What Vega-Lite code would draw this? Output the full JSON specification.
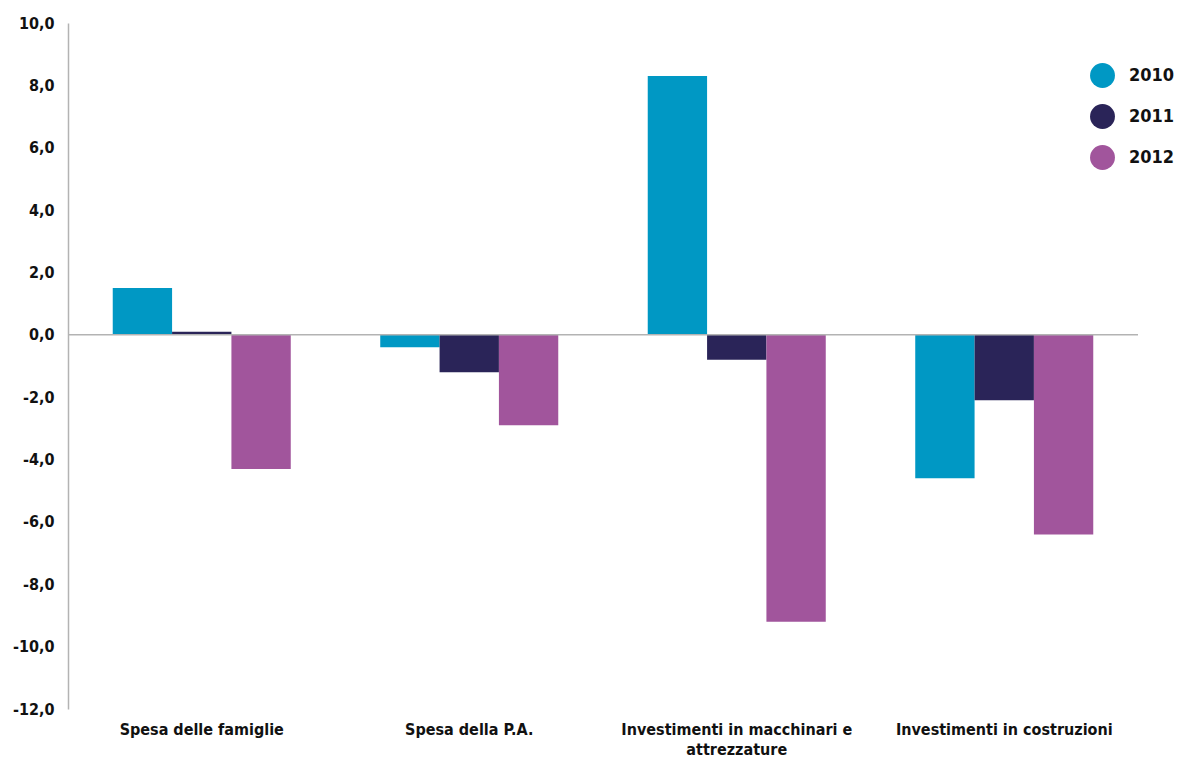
{
  "$schema": "https://vega.github.io/schema/vega-lite/v6.json",
  "autosize": {"type": "none"},
  "width": 1070,
  "height": 686,
  "padding": {"left": 68, "top": 23, "right": 43, "bottom": 51},
  "background": "white",
  "config": {
    "view": {"stroke": null},
    "font": "Liberation Sans Narrow, DejaVu Sans Condensed, Roboto, sans-serif"
  },
  "data": {
    "values": [
      {"categoria": "Spesa delle famiglie", "anno": "2010", "valore": 1.5},
      {"categoria": "Spesa delle famiglie", "anno": "2011", "valore": 0.1},
      {"categoria": "Spesa delle famiglie", "anno": "2012", "valore": -4.3},
      {"categoria": "Spesa della P.A.", "anno": "2010", "valore": -0.4},
      {"categoria": "Spesa della P.A.", "anno": "2011", "valore": -1.2},
      {"categoria": "Spesa della P.A.", "anno": "2012", "valore": -2.9},
      {"categoria": "Investimenti in macchinari e attrezzature", "anno": "2010", "valore": 8.3},
      {"categoria": "Investimenti in macchinari e attrezzature", "anno": "2011", "valore": -0.8},
      {"categoria": "Investimenti in macchinari e attrezzature", "anno": "2012", "valore": -9.2},
      {"categoria": "Investimenti in costruzioni", "anno": "2010", "valore": -4.6},
      {"categoria": "Investimenti in costruzioni", "anno": "2011", "valore": -2.1},
      {"categoria": "Investimenti in costruzioni", "anno": "2012", "valore": -6.4}
    ]
  },
  "layer": [
    {
      "mark": {"type": "bar"},
      "encoding": {
        "x": {
          "field": "categoria",
          "type": "nominal",
          "sort": null,
          "scale": {"paddingInner": 0, "paddingOuter": 0},
          "axis": {
            "title": null,
            "domain": false,
            "ticks": false,
            "labelAngle": 0,
            "labelFontSize": 16,
            "labelFontWeight": "bold",
            "labelColor": "#111111",
            "labelPadding": 12,
            "labelBaseline": "top",
            "labelLineHeight": 20,
            "labelLimit": 300,
            "labelExpr": "datum.label == 'Investimenti in macchinari e attrezzature' ? ['Investimenti in macchinari e', 'attrezzature'] : datum.label"
          }
        },
        "xOffset": {
          "field": "anno",
          "type": "nominal",
          "scale": {"paddingInner": 0, "paddingOuter": 0.754}
        },
        "y": {
          "field": "valore",
          "type": "quantitative",
          "scale": {"domain": [-12, 10], "nice": false, "zero": false},
          "axis": {
            "title": null,
            "values": [-12, -10, -8, -6, -4, -2, 0, 2, 4, 6, 8, 10],
            "grid": false,
            "ticks": false,
            "domainColor": "#b3b3b3",
            "domainWidth": 1.5,
            "labelFontSize": 16,
            "labelFontWeight": "bold",
            "labelColor": "#111111",
            "labelPadding": 14,
            "labelExpr": "replace(replace(format(datum.value, '.1f'), '.', ','), '\u2212', '-')"
          }
        },
        "color": {
          "field": "anno",
          "type": "nominal",
          "scale": {"domain": ["2010", "2011", "2012"], "range": ["#0098c4", "#2a2458", "#a1559c"]},
          "legend": {
            "title": null,
            "orient": "none",
            "legendX": 1022,
            "legendY": 40,
            "symbolType": "circle",
            "symbolSize": 620,
            "symbolStrokeWidth": 0,
            "labelFontSize": 18,
            "labelFontWeight": "bold",
            "labelColor": "#111111",
            "labelOffset": 14,
            "rowPadding": 16
          }
        }
      }
    },
    {
      "data": {"values": [{"zero": 0}]},
      "mark": {"type": "rule", "color": "#b3b3b3", "strokeWidth": 1.5},
      "encoding": {"y": {"field": "zero", "type": "quantitative"}}
    }
  ]
}
